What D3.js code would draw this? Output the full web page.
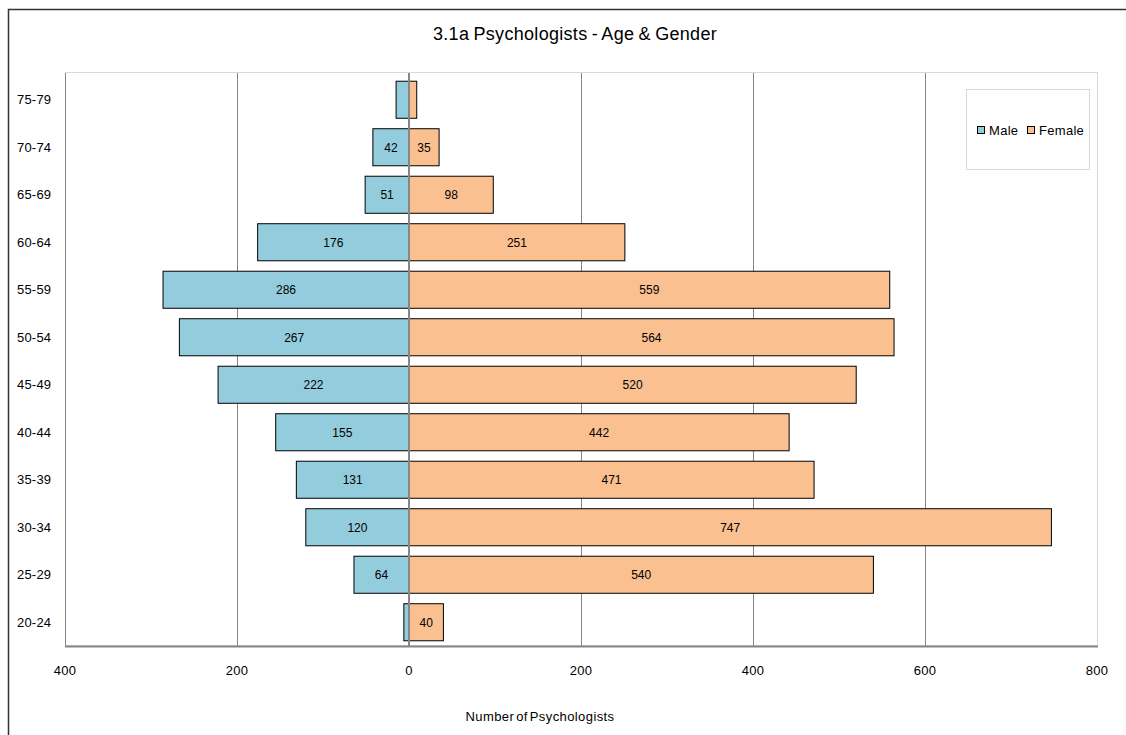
<!DOCTYPE html>
<html><head><meta charset="utf-8">
<script src="https://cdn.jsdelivr.net/npm/d3@7"></script>
<style>body{margin:0;background:#fff;}svg{display:block;font-family:"Liberation Sans",Arial,sans-serif;}</style>
</head><body>
<svg id="c" width="1126" height="735"></svg>
<script>
const categories = ["75-79","70-74","65-69","60-64","55-59","50-54","45-49","40-44","35-39","30-34","25-29","20-24"];
const male   = [15, 42, 51, 176, 286, 267, 222, 155, 131, 120, 64, 6];
const female = [9, 35, 98, 251, 559, 564, 520, 442, 471, 747, 540, 40];
const maleLabels   = [null, 42, 51, 176, 286, 267, 222, 155, 131, 120, 64, null];
const femaleLabels = [null, 35, 98, 251, 559, 564, 520, 442, 471, 747, 540, 40];
const xTicks = [-400, -200, 0, 200, 400, 600, 800];
const seriesNames = ["Male", "Female"];
const colors = {Male: "#93CDDD", Female: "#FAC090"};

const svg = d3.select("#c");
const L = 65, R = 1097, T = 76, B = 646;
const x = d3.scaleLinear().domain([-400, 800]).range([L, R]);
const y = d3.scaleBand().domain(categories).range([T, B]).paddingInner(0.22).paddingOuter(0.11);

// outer border
svg.append("path").attr("d", `M8.5,735 V9.5 H1126`).attr("fill","none").attr("stroke","#333").attr("stroke-width",1.5);

// title
svg.append("text").attr("x", 575).attr("y", 40).attr("text-anchor","middle")
  .attr("font-size", 18).attr("letter-spacing", "0.3").attr("word-spacing","-1").attr("fill","#000").text("3.1a Psychologists - Age & Gender");

// plot frame
svg.append("rect").attr("x", L+0.5).attr("y", T-3.5).attr("width", R-L).attr("height", B-T+3)
  .attr("fill","none").attr("stroke","#d9d9d9");
// gridlines
svg.append("g").selectAll("line").data(xTicks.filter(d => d !== 0 && d !== 800)).join("line")
  .attr("x1", d => Math.round(x(d))+0.5).attr("x2", d => Math.round(x(d))+0.5)
  .attr("y1", T-3).attr("y2", B).attr("stroke","#868686").attr("stroke-width",1);
svg.append("line").attr("x1", L+0.5).attr("x2", L+0.5).attr("y1", T-3).attr("y2", B).attr("stroke","#868686");

// bars
const g = svg.append("g");
g.selectAll("rect.m").data(categories).join("rect").attr("class","m")
  .attr("x", (d,i) => x(-male[i])).attr("width", (d,i) => x(0) - x(-male[i]))
  .attr("y", d => y(d)).attr("height", y.bandwidth())
  .attr("fill", colors.Male).attr("stroke","#000").attr("stroke-width",1);
g.selectAll("rect.f").data(categories).join("rect").attr("class","f")
  .attr("x", x(0)).attr("width", (d,i) => x(female[i]) - x(0))
  .attr("y", d => y(d)).attr("height", y.bandwidth())
  .attr("fill", colors.Female).attr("stroke","#000").attr("stroke-width",1);

// zero line and bottom axis
svg.append("line").attr("x1", x(0)).attr("x2", x(0)).attr("y1", T-3).attr("y2", B)
  .attr("stroke","#868686").attr("stroke-width",2);
svg.append("line").attr("x1", L).attr("x2", R+1).attr("y1", B+0.5).attr("y2", B+0.5)
  .attr("stroke","#868686").attr("stroke-width",2);

// value labels
g.selectAll("text.ml").data(categories).join("text").attr("class","ml")
  .attr("x", (d,i) => (x(-male[i]) + x(0))/2).attr("y", d => y(d) + y.bandwidth()/2 + 4.5)
  .attr("text-anchor","middle").attr("font-size", 12).attr("fill","#000")
  .text((d,i) => maleLabels[i] == null ? "" : maleLabels[i]);
g.selectAll("text.fl").data(categories).join("text").attr("class","fl")
  .attr("x", (d,i) => (x(female[i]) + x(0))/2).attr("y", d => y(d) + y.bandwidth()/2 + 4.5)
  .attr("text-anchor","middle").attr("font-size", 12).attr("fill","#000")
  .text((d,i) => femaleLabels[i] == null ? "" : femaleLabels[i]);

// category labels
svg.append("g").selectAll("text").data(categories).join("text")
  .attr("x", 17).attr("y", d => y(d) + y.bandwidth()/2 + 4.5)
  .attr("text-anchor","start").attr("font-size", 13).attr("letter-spacing","0.2").attr("fill","#000").text(d => d);

// x tick labels
svg.append("g").selectAll("text").data(xTicks).join("text")
  .attr("x", d => x(d)).attr("y", 675).attr("text-anchor","middle")
  .attr("font-size", 13).attr("letter-spacing","0.3").attr("fill","#000").text(d => Math.abs(d));

// axis title
svg.append("text").attr("x", 540).attr("y", 721).attr("text-anchor","middle")
  .attr("font-size", 13).attr("letter-spacing", "0.4").attr("word-spacing","-2").attr("fill","#000").text("Number of Psychologists");

// legend
const lg = svg.append("g");
lg.append("rect").attr("x", 966.5).attr("y", 89.5).attr("width", 123).attr("height", 80)
  .attr("fill","#fff").attr("stroke","#d9d9d9");
const items = [{n:"Male", x:977}, {n:"Female", x:1027}];
items.forEach(it => {
  lg.append("rect").attr("x", it.x+0.5).attr("y", 126.5).attr("width", 7).attr("height", 7)
    .attr("fill", colors[it.n]).attr("stroke","#000");
  lg.append("text").attr("x", it.x+12).attr("y", 135).attr("font-size", 13).attr("letter-spacing","0.3").attr("fill","#000").text(it.n);
});
</script>
</body></html>
